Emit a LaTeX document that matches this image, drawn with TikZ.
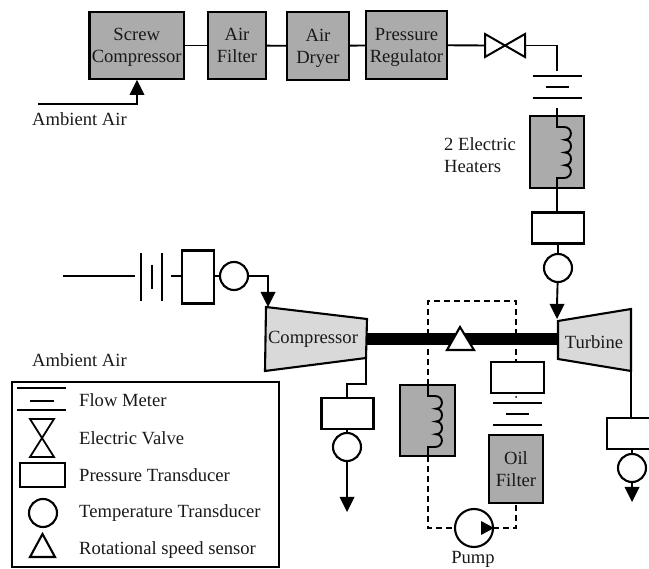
\documentclass[tikz,border=0pt]{standalone}
\usepackage{fontspec}
\setmainfont{Liberation Serif}
\tikzset{
  x=1pt,y=-1pt,
  lab/.style={font=\fontsize{18.6}{22}\selectfont,text=black!90,align=center,inner sep=0pt},
  labl/.style={lab,anchor=west,align=left},
  boxg/.style={draw=black,line width=2.1pt,fill=black!33,inner sep=0pt,outer sep=0pt},
  boxt/.style={boxg,align=center,font=\fontsize{18.6}{22}\selectfont,text=black!90,text height=40pt,text depth=5pt},
  ptbox/.style={draw=black,line width=2.1pt,fill=white,minimum width=52pt,minimum height=31pt,inner sep=0pt,outer sep=0pt},
  ttc/.style={circle,draw=black,line width=2.1pt,fill=white,minimum size=28pt,inner sep=0pt,outer sep=0pt},
  pipe/.style={line width=1.9pt,line join=miter},
  sym/.style={line width=1.8pt},
  dashpipe/.style={line width=1.6pt,dash pattern=on 6pt off 4pt},
  coil/.pic={
    \draw[line width=1.9pt] (0,-11) -- (0,0) -- (7,0)
      .. controls (16,0) and (16,12.75) .. (8,12.75)
      .. controls (16,12.75) and (16,25.5) .. (8,25.5)
      .. controls (16,25.5) and (16,38.25) .. (8,38.25)
      .. controls (16,38.25) and (16,51) .. (7,51) -- (0,51) -- (0,61);
  },
  fm/.pic={
    \draw[sym] (-24.5,0) -- (24.5,0);
    \draw[sym] (-11.5,11) -- (11.5,11);
    \draw[sym] (-24.5,22) -- (24.5,22);
  }
}
\newcommand{\headdown}[2]{\fill (#1-7.5,#2-15) -- (#1+7.5,#2-15) -- (#1,#2) -- cycle;}
\begin{document}
\begin{tikzpicture}
\useasboundingbox (0,0) rectangle (649,569);
\clip (0,0) rectangle (649,569);

% top train
\node[boxt,minimum width=94.5pt,minimum height=67pt] (sc) at (136.7,45.5) {Screw\\Compressor};
\node[boxt,minimum width=58pt,minimum height=67pt] (af) at (237,45.5) {Air\\Filter};
\node[boxt,minimum width=62pt,minimum height=68pt] (ad) at (318,46) {Air\\Dryer};
\node[boxt,minimum width=81pt,minimum height=68pt] (pr) at (406.5,45) {Pressure\\Regulator};
\coordinate (v) at (505,45.5);
\coordinate (vl) at (485,45.5);
\coordinate (vr) at (525,45.5);
\coordinate (fmt) at (557,71);
\draw[line width=2pt,fill=white,line join=miter] (485,34) -- (525,57) -- (525,34) -- (485,57) -- cycle;
\draw[pipe] (sc) -- (af);
\draw[pipe] (af) -- (ad);
\draw[pipe] (ad) -- (pr);
\draw[pipe] (pr) -- (vl);
\draw[pipe] (vr) -- (fmt |- vr) -- (fmt);
\pic at (557,76) {fm};

% heaters 1
\node[boxg,minimum width=54.5pt,minimum height=72pt] (h1) at (557,152) {};
\draw[pipe] (557,108) -- (557,116);
\pic at (557,127) {coil};
\node[lab,labl] (ht) at (444,155) {2 Electric\\Heaters};
\node[ptbox] (p1) at (558,228) {};
\node[ttc] (t1) at (558,268) {};
\draw[pipe] (h1.south) -- (h1.south |- p1.north);
\draw[pipe] (p1) -- (t1);
\coordinate (a1) at (557,319);
\draw[pipe] (t1) -- (a1 |- 0,305);
\headdown{557}{319}

% ambient inlet
\coordinate (amb) at (38,104);
\coordinate (sci) at (137,80);
\draw[line width=2.5pt] (amb) -- (amb -| sci) -- (137,92);
\fill (129.5,95) -- (144.5,95) -- (sci) -- cycle;
\node[lab,anchor=west] (ambt) at (32,119) {Ambient Air};

% left sensor row
\coordinate (in) at (63,276);
\coordinate (fmi) at (135,276);
\draw[pipe] (in) -- (fmi);
\draw[sym] (141,253) -- (141,301);
\draw[sym] (152,265) -- (152,289);
\draw[sym] (162,253) -- (162,301);
\node[ptbox,minimum width=32pt,minimum height=53pt] (p2) at (198,277) {};
\coordinate (p2in) at (171,276);
\draw[pipe] (p2in) -- (p2in -| p2.west);
\node[ttc] (t2) at (234,276) {};
\draw[pipe] (p2.east |- t2) -- (t2);
\coordinate (a2) at (268,307);
\draw[pipe] (t2) -- (t2 -| a2) -- (268,295);
\headdown{268}{307}

% compressor + turbine
\coordinate (cE) at (366,339);
\coordinate (tW) at (558,339);
\draw[line width=12pt] (cE) -- (tW);
\draw[line width=2.1pt,fill=black!15,line join=miter] (266,307) -- (367,319) -- (366,358) -- (265,371) -- cycle;
\node[lab] (comp) at (313,339) {Compressor};
\draw[line width=2.1pt,fill=black!15,line join=miter] (558,321) -- (631,309) -- (631,371) -- (558,359) -- cycle;
\node[lab] (turb) at (594,342) {Turbine};

% oil loop
\node[boxg,minimum width=55pt,minimum height=71pt] (h2) at (427.5,420.5) {};
\node[ptbox,minimum width=53pt] (p3) at (517.5,377.5) {};
\node[boxt,minimum width=54pt,minimum height=68pt] (of) at (516,469) {Oil\\Filter};
\node[ttc,minimum size=38pt] (pump) at (474,528) {};
\coordinate (lt) at (428,301);
\coordinate (rt) at (516,301);
\draw[dashpipe] (428,385) -- (lt) -- (rt) -- (516,362);
\draw[dashpipe] (428,456) -- (428,528) -- (pump.west);
\draw[dashpipe] (pump.east) -- (516,528) -- (of.south);
\fill (494,528) -- (481,521) -- (481,535) -- cycle;
\pic at (428,396) {coil};
\pic at (517.5,403) {fm};
\fill (516,397) circle (1pt);
\draw[line width=2.1pt,fill=white,line join=miter] (460,327) -- (474,350) -- (447,350) -- cycle;
\node[lab] (pumpt) at (473,559) {Pump};

% compressor outlet
\node[ptbox] (p4) at (347.5,413.5) {};
\node[ttc] (t4) at (347,447) {};
\coordinate (cs) at (366,358);
\draw[pipe] (cs) -- (366,384) -- (347,384) -- (p4.north -| t4);
\draw[pipe] (p4.south -| t4) -- (t4);
\draw[pipe] (t4) -- (347,499);
\headdown{347}{512}

% turbine outlet
\node[ptbox] (p5) at (633,433.5) {};
\node[ttc] (t5) at (632,468) {};
\coordinate (ts) at (631,371);
\draw[pipe] (ts) -- (p5.north -| ts);
\draw[pipe] (p5.south -| t5) -- (t5);
\draw[pipe] (t5) -- (632,490);
\headdown{632}{502}

% legend
\node[draw=black,line width=1.8pt,minimum width=267pt,minimum height=185pt,inner sep=0pt,outer sep=0pt] (leg) at (145.5,474.5) {};
\draw[sym] (17,388) -- (66,388);
\draw[sym] (30,401) -- (54,401);
\draw[sym] (17,410) -- (66,410);
\draw[sym,line join=miter] (30,419) -- (54,419) -- (30,457) -- (54,457) -- cycle;
\node[ptbox,minimum width=45pt,minimum height=24pt] (lp) at (42.5,475) {};
\node[ttc] (lc) at (43,513) {};
\draw[line width=2.1pt,line join=miter] (42.5,534) -- (55,557) -- (30,557) -- cycle;
\node[labl] (l1) at (79,400) {Flow Meter};
\node[labl] (l2) at (79,438) {Electric Valve};
\node[labl] (l3) at (79,475) {Pressure Transducer};
\node[labl] (l4) at (79,513) {Temperature Transducer};
\node[labl] (l5) at (79,550) {Rotational speed sensor};
\node[lab,anchor=west] (amb2) at (32,360) {Ambient Air};
\end{tikzpicture}
\end{document}
